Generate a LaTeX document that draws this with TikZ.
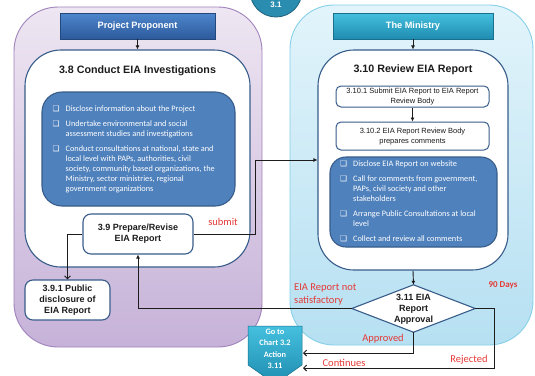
\documentclass[tikz,border=0pt]{standalone}
\usepackage{fontspec}
\setmainfont{Liberation Sans}
\newfontfamily\calfont{Carlito}
\newfontfamily\djfont{DejaVu Sans}
\usetikzlibrary{arrows.meta,calc}
\newcommand{\bx}{{\djfont\fontsize{7.8}{7.8}\selectfont ❑}}
\definecolor{pTop}{HTML}{EEE6F2}
\definecolor{pBot}{HTML}{C6B2D8}
\definecolor{pBorder}{HTML}{A083BC}
\definecolor{mTop}{HTML}{E2F4FB}
\definecolor{mBot}{HTML}{B6E0F2}
\definecolor{mBorder}{HTML}{86D0E8}
\definecolor{dblue}{HTML}{385D8A}
\definecolor{ofblue}{HTML}{4F81BD}
\definecolor{hTop}{HTML}{4E86CC}
\definecolor{hBot}{HTML}{2C5A9C}
\definecolor{tTop}{HTML}{45C0DE}
\definecolor{tBot}{HTML}{1E8CB0}
\definecolor{circ}{HTML}{2A8CAE}
\definecolor{lbl}{HTML}{E53935}
\definecolor{ln}{HTML}{1C1C1C}
\begin{document}
\begin{tikzpicture}[x=1pt,y=-1pt,
  hdr/.style={draw=#1!80!black, line width=0.6pt, minimum height=26, inner sep=0pt,
    text=white, font=\bfseries\fontsize{9.2}{11}\selectfont},
  wbox/.style={draw=dblue, line width=1.1pt, fill=white, inner sep=0pt},
  bbox/.style={draw=dblue, line width=1.1pt, fill=ofblue, inner sep=0pt, rounded corners=20pt},
  btxt/.style={anchor=west, inner sep=0pt, text=white, font=\calfont\fontsize{8.3}{10}\selectfont},
  ttl/.style={font=\bfseries\fontsize{10.7}{13}\selectfont, inner sep=0pt, text=ln},
  stxt/.style={align=center, inner sep=0pt, font=\bfseries\fontsize{9}{11}\selectfont, text=ln},
  rtxt/.style={align=center, inner sep=0pt, font=\fontsize{7.5}{9.8}\selectfont, text=ln},
  red/.style={inner sep=0pt, text=lbl, font=\calfont\fontsize{10.5}{13}\selectfont},
  conn/.style={draw=ln, line width=0.9pt},
  arr/.style={conn, -{Latex[length=4pt,width=4pt]}},
  barb/.style={conn, -{Straight Barb[length=3pt,width=6pt]}}
]
\useasboundingbox (0,0) rectangle (535,375);
\clip (0,0) rectangle (535,375);

% panels
\shade[draw=pBorder, line width=0.9pt, rounded corners=44pt, top color=pTop, bottom color=pBot]
  (14,7) rectangle (262,347);
\shade[draw=mBorder, line width=0.9pt, rounded corners=44pt, top color=mTop, bottom color=mBot]
  (290,5) rectangle (533,345);

% circle 3.1
\node[circle, fill=circ, draw=circ!70!black, line width=0.8pt, minimum size=52, inner sep=0pt] (c31) at (276,-9) {};
\node[text=white, font=\bfseries\fontsize{8}{10}\selectfont, inner sep=0pt] (c31t) at (276,4.5) {3.1};

% headers
\node[hdr=hBot, top color=hTop, bottom color=hBot, minimum width=155] (pp) at (137.5,26) {Project Proponent};
\node[hdr=tBot, top color=tTop, bottom color=tBot, minimum width=160] (mi) at (413,26) {The Ministry};

% 3.8
\node[wbox, rounded corners=36pt, minimum width=225, minimum height=217] (b38) at (137.5,158.5) {};
\node[ttl] (t38) at (137.5,71) {3.8 Conduct EIA Investigations};
\node[bbox, minimum width=193, minimum height=114] (b38in) at (138.5,149) {};
\node[btxt] (b38txt) at (52.5,149) {\begin{tabular}{@{}l@{\hspace{6pt}}l@{}}
\bx & Disclose information about the Project\\[5pt]
\bx & Undertake environmental and social\\
 & assessment studies and investigations\\[5pt]
\bx & Conduct consultations at national, state and\\
 & local level with PAPs, authorities, civil\\
 & society, community based organizations, the\\
 & Ministry, sector ministries, regional\\
 & government organizations
\end{tabular}};

% 3.9 and 3.9.1
\node[wbox, rounded corners=8pt, minimum width=110, minimum height=40] (b39) at (138,234) {};
\node[stxt] (t39) at (138,234) {3.9 Prepare/Revise\\EIA Report};
\node[wbox, rounded corners=8pt, minimum width=85, minimum height=40] (b391) at (67.5,300) {};
\node[stxt] (t391) at (67.5,300) {3.9.1 Public\\disclosure of\\EIA Report};

% 3.10
\node[wbox, rounded corners=36pt, minimum width=190, minimum height=220] (b310) at (413,160) {};
\node[ttl] (t310) at (413,70) {3.10 Review EIA Report};
\node[wbox, line width=1pt, rounded corners=5pt, minimum width=153, minimum height=21] (b3101) at (412.5,96.5) {};
\node[rtxt] (t3101) at (412.5,96.5) {3.10.1 Submit EIA Report to EIA Report\\Review Body};
\node[wbox, line width=1pt, rounded corners=5pt, minimum width=153, minimum height=28] (b3102) at (412.5,136) {};
\node[rtxt] (t3102) at (412.5,136.5) {3.10.2 EIA Report Review Body\\prepares comments};
\node[bbox, rounded corners=16pt, minimum width=167, minimum height=90] (b310in) at (413.5,202) {};
\node[btxt] (b310txt) at (340,202) {\begin{tabular}{@{}l@{\hspace{6pt}}l@{}}
\bx & Disclose EIA Report on website\\[5pt]
\bx & Call for comments from government,\\
 & PAPs, civil society and other\\
 & stakeholders\\[5pt]
\bx & Arrange Public Consultations at local\\
 & level\\[5pt]
\bx & Collect and review all comments
\end{tabular}};

% diamond 3.11
\node[minimum width=123, minimum height=47, inner sep=0pt] (d311) at (413.5,308.5) {};
\draw[draw=dblue, line width=1.1pt, fill=white] (d311.north) -- (d311.east) -- (d311.south) -- (d311.west) -- cycle;
\node[stxt] (t311) at (413.5,309) {3.11 EIA\\Report\\Approval};

% go to
\shade[top color=tTop, bottom color=tBot, draw=tBot!80!black, line width=0.5pt]
  (248,326) -- (302,326) -- (302,365) -- (275,384) -- (248,365) -- cycle;
\node[text=white, align=center, inner sep=0pt, font=\calfont\bfseries\fontsize{8.3}{11.5}\selectfont] (goto) at (275,349) {Go to\\Chart 3.2\\Action\\3.11};
\coordinate (ga) at (303,353);
\coordinate (gb) at (303,368);

% connectors
\draw[arr] (pp.south) -- (b38.north);
\draw[arr] (mi.south) -- (b310.north);
\draw[arr] (b3101.south) -- (b3102.north);
\draw[arr] (b310.south) -- (d311.north);
\draw[arr] (b39.east) -- ++(62,0) |- (b310.west);
\draw[barb] (b39.west) -| (b391.north);
\draw[arr] (d311.west) -| (b39.south);
\draw[barb] (d311.south) |- (ga);
\draw[barb] (d311.east) -- ++(19,0) |- (gb);

% labels
\node[red] (lsub) at (223,222) {submit};
\node[red, anchor=west, align=left] (lnot) at (294,294.5) {EIA Report not\\satisfactory};
\node[red, font=\calfont\bfseries\fontsize{9}{11}\selectfont] (l90) at (503,285) {90 Days};
\node[red] (lapp) at (383,339) {Approved};
\node[red] (lcon) at (344,363) {Continues};
\node[red] (lrej) at (469,360) {Rejected};
\end{tikzpicture}
\end{document}
